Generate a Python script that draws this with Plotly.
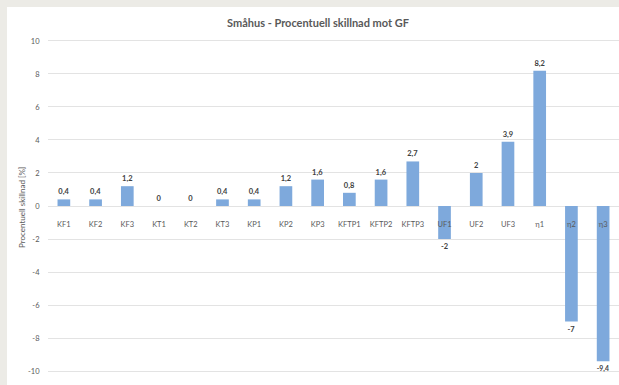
import plotly.graph_objects as go

# Småhus: procentuell skillnad mot GF per variant
categories = ["KF1", "KF2", "KF3", "KT1", "KT2", "KT3", "KP1", "KP2", "KP3",
              "KFTP1", "KFTP2", "KFTP3", "UF1", "UF2", "UF3", "η1", "η2", "η3"]
values = [0.4, 0.4, 1.2, 0, 0, 0.4, 0.4, 1.2, 1.6,
          0.8, 1.6, 2.7, -2, 2, 3.9, 8.2, -7, -9.4]
y_ticks = [10, 8, 6, 4, 2, 0, -2, -4, -6, -8, -10]

W, H = 619, 385
L, R, T, B = 48, 0, 36, 9
YMIN, YMAX = -10.3, 10.3

label_text = [f"{v:g}".replace(".", ",") for v in values]
font_family = "Lato, 'Open Sans', sans-serif"
grey_txt = "#595959"

fig = go.Figure(go.Bar(
    x=categories,
    y=values,
    marker=dict(color="#7EA9DC", line=dict(width=0)),
    text=label_text,
    textposition="outside",
    textfont=dict(family=font_family, size=7.5, color="#404040", weight="bold"),
    cliponaxis=False,
    hoverinfo="skip",
))

plot_w = W - L - R
plot_h = H - T - B

def px_to_paper_x(px):
    return (px - L) / plot_w

def px_to_paper_y(py):
    return (H - B - py) / plot_h

# white chart panel on a light grey surround
fig.add_shape(type="rect", xref="paper", yref="paper", layer="below",
              x0=px_to_paper_x(7), x1=px_to_paper_x(W + 5),
              y0=px_to_paper_y(H + 5), y1=px_to_paper_y(7),
              fillcolor="white", line=dict(width=0))

fig.add_annotation(text="Procentuell skillnad [%]", textangle=-90,
                   xref="paper", yref="paper",
                   x=px_to_paper_x(22), y=px_to_paper_y(208),
                   showarrow=False, xanchor="center", yanchor="middle",
                   font=dict(family=font_family, size=8, color=grey_txt))

zero_pos = (0 - YMIN) / (YMAX - YMIN)

fig.update_layout(
    width=W, height=H,
    margin=dict(l=L, r=R, t=T, b=B),
    paper_bgcolor="#ECEBE6",
    plot_bgcolor="rgba(0,0,0,0)",
    bargap=0.6,
    showlegend=False,
    title=dict(text="Småhus - Procentuell skillnad mot GF",
               x=318 / W, y=1 - 23 / H, xref="container", yref="container",
               xanchor="center", yanchor="middle",
               font=dict(family=font_family, size=11, color=grey_txt, weight="bold")),
    xaxis=dict(
        range=[-0.5, len(categories) - 0.5],
        anchor="free", position=zero_pos,
        showgrid=False, showline=False, zeroline=False,
        ticks="outside", ticklen=11, tickcolor="rgba(0,0,0,0)",
        tickfont=dict(family=font_family, size=7.5, color=grey_txt),
    ),
    yaxis=dict(
        range=[YMIN, YMAX],
        tickvals=y_ticks,
        ticktext=[str(t) for t in y_ticks],
        showgrid=True, gridcolor="#E3E3E3", gridwidth=1,
        zeroline=False, showline=False,
        ticks="outside", ticklen=6, tickcolor="rgba(0,0,0,0)",
        tickfont=dict(family=font_family, size=7.5, color=grey_txt),
    ),
)

fig.write_html("out.html")
